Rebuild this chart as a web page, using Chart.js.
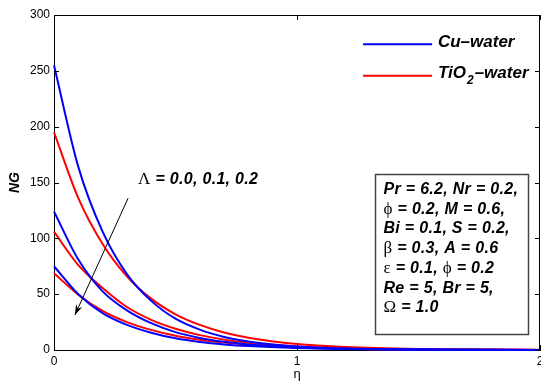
<!DOCTYPE html>
<html>
<head>
<meta charset="utf-8">
<title>NG vs eta</title>
<script src="https://cdn.jsdelivr.net/npm/chart.js@4.4.1/dist/chart.umd.min.js"></script>
<style>
  html, body { margin: 0; padding: 0; background: #fff; }
</style>
</head>
<body>
<canvas id="chart-ng" width="541" height="382"></canvas>
<script>
// NG against eta, Cu-water (blue) and TiO2-water (red), Lambda = 0.0, 0.1, 0.2
// values
const etaPoints = [0, 0.1, 0.2, 0.3, 0.4, 0.5, 0.6, 0.7, 0.8, 1.0, 1.2, 1.5, 2.0];

const cuLambda0 = [255, 164, 106, 68, 44, 28, 18.2, 11.7, 7.6, 3.1, 1.3, 0.5, 0.1];
const cuLambda1 = [124, 81, 52.5, 35.5, 24, 16, 10.8, 7.3, 5, 2.3, 1.1, 0.4, 0.1];
const cuLambda2 = [75, 50, 33, 22.5, 15.5, 10.5, 7.2, 5, 3.5, 1.7, 0.8, 0.3, 0.05];
const tiLambda0 = [195, 136, 95, 66, 46, 32, 22.5, 15.7, 11, 5.3, 2.6, 0.9, 0.15];
const tiLambda1 = [106, 76, 55.5, 38.5, 27, 19, 13.3, 9.3, 6.5, 3.2, 1.6, 0.5, 0.1];
const tiLambda2 = [68.7, 49.5, 35, 25, 18, 12.8, 9.2, 6.6, 4.8, 2.4, 1.1, 0.4, 0.07];

const xTicks = [0, 1, 2];
const yTicks = [0, 50, 100, 150, 200, 250, 300];

const legendLabels = ['Cu\u2013water', 'TiO', '2', '\u2013water'];
const lambdaNote = ['\u039b', ' = 0.0, 0.1, 0.2'];
// each line is a list of [text, isGreek]
const paramLines = [
  [['Pr = 6.2, Nr = 0.2,', false]],
  [['\u03d5', true], [' = 0.2, M = 0.6,', false]],
  [['Bi = 0.1, S = 0.2,', false]],
  [['\u03b2', true], [' = 0.3, A = 0.6', false]],
  [['\u03b5', true], [' = 0.1, ', false], ['\u03d5', true], [' = 0.2', false]],
  [['Re = 5, Br = 5,', false]],
  [['\u03a9', true], [' = 1.0', false]]
];

const BLUE = '#0000ff';
const RED = '#ff0000';
const SANS = "'Liberation Sans', Arial, Helvetica, sans-serif";
const SERIF = "'Liberation Serif', 'DejaVu Serif', 'Times New Roman', serif";

const toPts = (ys) => etaPoints.map((x, i) => ({ x, y: ys[i] }));

function lineSet(label, ys, color) {
  return {
    label, data: toPts(ys), borderColor: color, backgroundColor: color,
    borderWidth: 2, pointRadius: 0, fill: false,
    cubicInterpolationMode: 'monotone', clip: 4
  };
}

function drawRuns(ctx, runs, x, y, size) {
  let cx = x;
  runs.forEach(([txt, greek]) => {
    ctx.font = greek ? `${size + 1}px ${SERIF}` : `italic bold ${size}px ${SANS}`;
    ctx.fillText(txt, cx, y);
    cx += ctx.measureText(txt).width;
  });
}

// box, inward ticks, legend and text notes (MATLAB look)
const frameAndNotes = {
  id: 'frameAndNotes',
  afterDatasetsDraw(chart) {
    const { ctx, chartArea: a, scales: { x, y } } = chart;
    ctx.save();
    ctx.strokeStyle = '#000';
    ctx.lineWidth = 1;
    ctx.beginPath();
    ctx.moveTo(a.left, a.top + 0.5); ctx.lineTo(a.right - 0.5, a.top + 0.5);
    ctx.lineTo(a.right - 0.5, a.bottom);
    yTicks.forEach(v => {
      const py = Math.round(y.getPixelForValue(v)) + 0.5;
      ctx.moveTo(a.left, py); ctx.lineTo(a.left + 5, py);
      ctx.moveTo(a.right, py); ctx.lineTo(a.right - 5, py);
    });
    xTicks.forEach(v => {
      const px = Math.round(x.getPixelForValue(v)) + 0.5;
      ctx.moveTo(px, a.bottom); ctx.lineTo(px, a.bottom - 5);
      ctx.moveTo(px, a.top); ctx.lineTo(px, a.top + 5);
    });
    ctx.stroke();

    // legend
    ctx.lineWidth = 2;
    [[BLUE, 273.8], [RED, 245.6]].forEach(([c, v]) => {
      const py = y.getPixelForValue(v);
      ctx.strokeStyle = c;
      ctx.beginPath();
      ctx.moveTo(x.getPixelForValue(1.272), py);
      ctx.lineTo(x.getPixelForValue(1.556), py);
      ctx.stroke();
    });
    ctx.fillStyle = '#000';
    ctx.textBaseline = 'alphabetic';
    const lx = x.getPixelForValue(1.58);
    ctx.font = `italic bold 17px ${SANS}`;
    ctx.fillText(legendLabels[0], lx, y.getPixelForValue(273.8) + 2.5);
    let rx = lx;
    const ry = y.getPixelForValue(245.6) + 2.5;
    ctx.fillText(legendLabels[1], rx, ry);
    rx += ctx.measureText(legendLabels[1]).width + 1;
    ctx.font = `italic bold 12px ${SANS}`;
    ctx.fillText(legendLabels[2], rx, ry + 6);
    rx += ctx.measureText(legendLabels[2]).width + 1;
    ctx.font = `italic bold 17px ${SANS}`;
    ctx.fillText(legendLabels[3], rx, ry);

    // Lambda note and arrow
    ctx.letterSpacing = '0.3px';
    const nx = x.getPixelForValue(0.346), ny = y.getPixelForValue(148.4);
    drawRuns(ctx, [[lambdaNote[0], true], [lambdaNote[1], false]], nx, ny, 16);
    ctx.letterSpacing = '0px';
    const x0 = x.getPixelForValue(0.305), y0 = y.getPixelForValue(136);
    const x1 = x.getPixelForValue(0.086), y1 = y.getPixelForValue(31.3);
    ctx.strokeStyle = '#000';
    ctx.lineWidth = 1;
    ctx.beginPath(); ctx.moveTo(x0, y0); ctx.lineTo(x1, y1); ctx.stroke();
    const ang = Math.atan2(y1 - y0, x1 - x0);
    ctx.beginPath();
    ctx.moveTo(x1, y1);
    ctx.lineTo(x1 - 11 * Math.cos(ang - 0.32), y1 - 11 * Math.sin(ang - 0.32));
    ctx.lineTo(x1 - 7 * Math.cos(ang), y1 - 7 * Math.sin(ang));
    ctx.lineTo(x1 - 11 * Math.cos(ang + 0.32), y1 - 11 * Math.sin(ang + 0.32));
    ctx.closePath();
    ctx.fillStyle = '#000';
    ctx.fill();

    // parameter box
    const bx0 = Math.round(x.getPixelForValue(1.321)) + 0.5;
    const bx1 = Math.round(x.getPixelForValue(1.951)) + 0.5;
    const by0 = Math.round(y.getPixelForValue(157.6)) + 0.5;
    const by1 = Math.round(y.getPixelForValue(14.3)) + 0.5;
    ctx.fillStyle = '#fff';
    ctx.fillRect(bx0, by0, bx1 - bx0, by1 - by0);
    ctx.strokeStyle = '#444';
    ctx.lineWidth = 1.5;
    ctx.strokeRect(bx0, by0, bx1 - bx0, by1 - by0);
    ctx.fillStyle = '#000';
    ctx.letterSpacing = '0.3px';
    paramLines.forEach((runs, i) => drawRuns(ctx, runs, bx0 + 8, by0 + 19.5 + i * 19.7, 16));
    ctx.restore();
  }
};

new Chart(document.getElementById('chart-ng').getContext('2d'), {
  type: 'line',
  data: {
    datasets: [
      lineSet('Cu-water', cuLambda0, BLUE),
      lineSet('Cu-water 0.1', cuLambda1, BLUE),
      lineSet('Cu-water 0.2', cuLambda2, BLUE),
      lineSet('TiO2-water', tiLambda0, RED),
      lineSet('TiO2-water 0.1', tiLambda1, RED),
      lineSet('TiO2-water 0.2', tiLambda2, RED)
    ]
  },
  options: {
    responsive: false,
    animation: false,
    layout: { padding: { top: 15, right: 1, left: 0, bottom: 0 } },
    plugins: { legend: { display: false }, tooltip: { enabled: false } },
    scales: {
      x: {
        type: 'linear', min: 0, max: 2,
        afterBuildTicks: (s) => { s.ticks = xTicks.map(v => ({ value: v })); },
        afterFit: (s) => { s.height = 32; s.paddingLeft = 0; s.paddingRight = 0; },
        grid: { display: false, drawTicks: false },
        border: { display: true, color: '#000', width: 1 },
        ticks: { color: '#000', padding: 4, maxRotation: 0, font: { family: SANS, size: 12 } },
        title: { display: true, text: '\u03b7', color: '#000', padding: { top: 0, bottom: 0 }, font: { family: SANS, size: 13 } }
      },
      y: {
        min: 0, max: 300,
        afterBuildTicks: (s) => { s.ticks = yTicks.map(v => ({ value: v })); },
        afterFit: (s) => { s.width = 54; s.paddingTop = 0; s.paddingBottom = 0; },
        grid: { display: false, drawTicks: false },
        border: { display: true, color: '#000', width: 1 },
        ticks: { color: '#000', padding: 4, font: { family: SANS, size: 12 } },
        title: { display: true, text: 'NG', color: '#000', padding: { top: 7, bottom: 0 }, font: { family: SANS, size: 14, weight: 'bold', style: 'italic' } }
      }
    }
  },
  plugins: [frameAndNotes]
});
</script>
</body>
</html>
